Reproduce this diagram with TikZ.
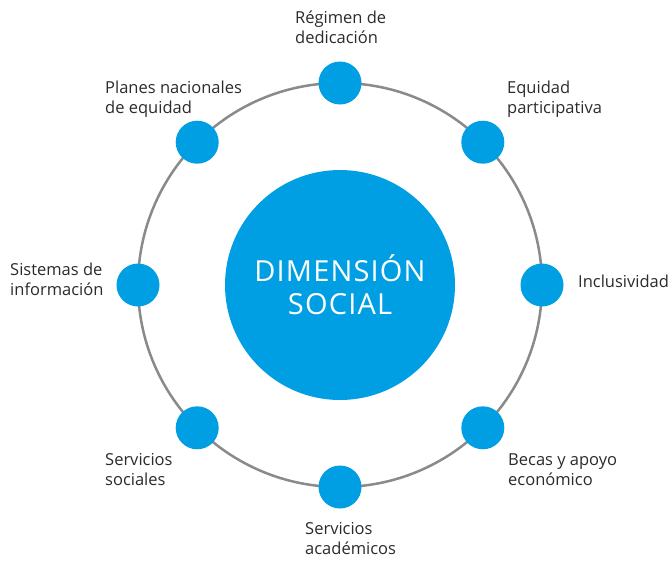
\documentclass[tikz,border=0pt]{standalone}
\usepackage{fontspec}
\setmainfont{Open Sans}
\usepackage{xcolor}

\definecolor{dimblue}{HTML}{009FE3}
\definecolor{ringgray}{HTML}{8A8A8A}
\definecolor{labeltext}{HTML}{2B2B2B}

\tikzset{
    dot/.style={circle, fill=dimblue, minimum size=43pt, inner sep=0pt},
    lbl/.style={align=left, anchor=base west, inner sep=0pt, text=labeltext}
}

\begin{document}
\begin{tikzpicture}[x=1pt, y=-1pt, font=\fontsize{16.5}{20}\selectfont]

        \useasboundingbox (0,0) rectangle (671,562);

        \node[circle, fill=dimblue, minimum size=230pt, inner sep=0pt, text=white, align=center,
              font=\fontsize{29}{33}\selectfont\addfontfeatures{LetterSpace=4}] at (340,285) (dim) {DIMENSIÓN\\SOCIAL};
        \draw[ringgray, line width=2.5pt] (dim.center) circle (202pt);

        \node[dot] at (340,83) (regimen) {};
        \node[dot] at (482.8,142.2) (equidad) {};
        \node[dot] at (542,285) (inclusiv) {};
        \node[dot] at (482.8,427.8) (becas) {};
        \node[dot] at (340,487) (academ) {};
        \node[dot] at (197.2,427.8) (sociales) {};
        \node[dot] at (138,285) (sistemas) {};
        \node[dot] at (197.2,142.2) (planes) {};

        % anchor is the baseline of the last line
        \node[lbl] at (295,43) (regimenlbl) {Régimen de\\dedicación};
        \node[lbl] at (507,113) (equidadlbl) {Equidad\\participativa};
        \node[lbl] at (578,287) (inclusivlbl) {Inclusividad};
        \node[lbl] at (508,485) (becaslbl) {Becas y apoyo\\económico};
        \node[lbl] at (305,554) (academlbl) {Servicios\\académicos};
        \node[lbl] at (105,485) (socialeslbl) {Servicios\\sociales};
        \node[lbl] at (10,295) (sistemaslbl) {Sistemas de\\información};
        \node[lbl] at (105,113) (planeslbl) {Planes nacionales\\de equidad};

    \end{tikzpicture}
\end{document}
